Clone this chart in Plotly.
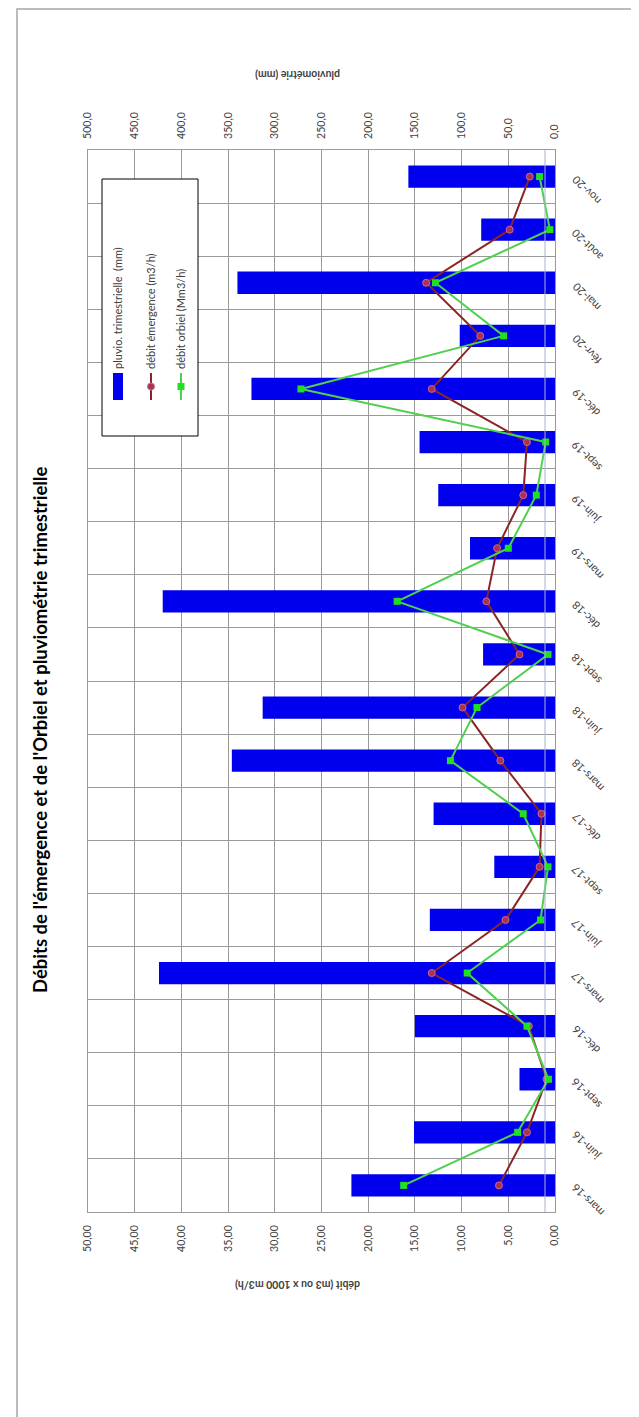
import plotly.graph_objects as go

# ---------------- data ----------------
categories = ['mars-16', 'juin-16', 'sept-16', 'déc-16', 'mars-17', 'juin-17', 'sept-17', 'déc-17',
              'mars-18', 'juin-18', 'sept-18', 'déc-18', 'mars-19', 'juin-19', 'sept-19', 'déc-19',
              'févr-20', 'mai-20', 'août-20', 'nov-20']
pluvio_mm = [218, 151, 38, 150, 424, 134, 65, 130, 346, 313, 77, 420, 91, 125, 145, 325, 102, 340, 79, 157]
debit_emergence = [6.0, 3.0, 0.9, 2.8, 13.2, 5.3, 1.65, 1.45, 5.85, 9.9, 3.8, 7.35, 6.2, 3.4, 3.0, 13.2,
                   8.0, 13.8, 4.85, 2.7]
debit_orbiel = [16.2, 4.0, 0.7, 3.0, 9.4, 1.55, 0.75, 3.4, 11.2, 8.35, 0.75, 16.9, 5.0, 2.0, 1.0, 27.2,
                5.5, 12.8, 0.55, 1.65]

debit_ticks = [0, 5, 10, 15, 20, 25, 30, 35, 40, 45, 50]
debit_ticktext = ['0,00', '5,00', '10,00', '15,00', '20,00', '25,00', '30,00', '35,00', '40,00', '45,00', '50,00']
pluvio_ticks = [0, 50, 100, 150, 200, 250, 300, 350, 400, 450, 500]
pluvio_ticktext = ['0,0', '50,0', '100,0', '150,0', '200,0', '250,0', '300,0', '350,0', '400,0', '450,0', '500,0']

title_text = "Débits de l'émergence et de l'Orbiel et pluviométrie trimestrielle"
debit_title = "débit (m3 ou x 1000 m3/h)"
pluvio_title = "pluviométrie (mm)"
legend_names = ["pluvio. trimestrielle  (mm)", "débit émergence (m3/h)", "débit orbiel (Mm3/h)"]

# ---------------- layout geometry ----------------
W, H = 639, 1417
PL, PR, PT, PB = 80, 547, 142, 1204
FONT = "Lato"

BLUE = '#0000ee'
RED_LINE = '#8b2525'
RED_MARK = '#a8364a'
RED_EDGE = '#d060a0'
GREEN_LINE = '#4fd04f'
GREEN_MARK = '#20e020'
GRID = '#9a9a9a'
TXT = '#404040'


def px(xp):
    return (xp - PL) / (PR - PL)


def py(yp):
    return (PB - yp) / (PB - PT)


fig = go.Figure()

fig.add_trace(go.Bar(
    name=legend_names[0], orientation='h', x=pluvio_mm, y=categories,
    xaxis='x', yaxis='y', width=0.42, marker=dict(color=BLUE, line=dict(width=0)),
))
fig.add_trace(go.Scatter(
    name=legend_names[1], x=debit_emergence, y=categories, xaxis='x2', yaxis='y',
    mode='lines+markers', line=dict(color=RED_LINE, width=2),
    marker=dict(symbol='circle', size=7, color=RED_MARK, line=dict(color=RED_EDGE, width=1)),
))
fig.add_trace(go.Scatter(
    name=legend_names[2], x=debit_orbiel, y=categories, xaxis='x2', yaxis='y',
    mode='lines+markers', line=dict(color=GREEN_LINE, width=2),
    marker=dict(symbol='square', size=7, color=GREEN_MARK, line=dict(width=0)),
))

fig.update_layout(
    width=W, height=H, autosize=False,
    margin=dict(l=PL, r=W - PR, t=PT, b=H - PB, pad=0),
    paper_bgcolor='white', plot_bgcolor='white',
    showlegend=False,
    bargap=0.58,
    font=dict(family=FONT, size=11, color=TXT),
    xaxis=dict(
        range=[500, 0], side='top', tickvals=pluvio_ticks, ticktext=pluvio_ticktext,
        tickangle=-90, showgrid=True, gridcolor=GRID, gridwidth=1, zeroline=False,
        showline=True, linecolor=GRID, mirror=False, ticks='', ticklabelstandoff=8,
        tickfont=dict(family=FONT, size=10.5, color=TXT),
    ),
    xaxis2=dict(
        range=[50, 0], side='bottom', overlaying='x', anchor='y', tickvals=debit_ticks,
        ticktext=debit_ticktext, tickangle=-90, showgrid=False, zeroline=False,
        showline=True, linecolor=GRID, ticks='', ticklabelstandoff=8,
        tickfont=dict(family=FONT, size=10.5, color=TXT),
    ),
    yaxis=dict(
        type='category', categoryorder='array', categoryarray=categories,
        range=[-0.5, len(categories) - 0.5], side='right', showticklabels=False,
        tickson='boundaries', showgrid=True, gridcolor=GRID, gridwidth=1,
        showline=True, linecolor=GRID, mirror=True, ticks='', zeroline=False,
    ),
)

shapes = []
# outer chart border
shapes.append(dict(type='rect', xref='paper', yref='paper', x0=px(9), x1=px(638), y0=py(1415), y1=py(1),
                   line=dict(color='#a6a6a6', width=1.5), fillcolor='rgba(0,0,0,0)', layer='below'))
# light vertical line near the value origin
shapes.append(dict(type='line', xref='paper', yref='paper', x0=px(537), x1=px(537), y0=0, y1=1,
                   line=dict(color='#a8b4cc', width=1), layer='above'))
# legend box
shapes.append(dict(type='rect', xref='paper', yref='paper', x0=px(94), x1=px(190), y0=py(428), y1=py(171),
                   line=dict(color='black', width=1), fillcolor='white', layer='above'))
# legend symbols
shapes.append(dict(type='rect', xref='paper', yref='paper', x0=px(105), x1=px(115), y0=py(392), y1=py(365),
                   line=dict(width=0), fillcolor=BLUE, layer='above'))
shapes.append(dict(type='line', xref='paper', yref='paper', x0=px(143), x1=px(143), y0=py(392), y1=py(365),
                   line=dict(color=RED_LINE, width=2), layer='above'))
shapes.append(dict(type='circle', xref='paper', yref='paper', x0=px(139.5), x1=px(146.5), y0=py(382), y1=py(375),
                   line=dict(color=RED_EDGE, width=1), fillcolor=RED_MARK, layer='above'))
shapes.append(dict(type='line', xref='paper', yref='paper', x0=px(173), x1=px(173), y0=py(392), y1=py(365),
                   line=dict(color=GREEN_LINE, width=2), layer='above'))
shapes.append(dict(type='rect', xref='paper', yref='paper', x0=px(169.5), x1=px(176.5), y0=py(382), y1=py(375),
                   line=dict(width=0), fillcolor=GREEN_MARK, layer='above'))
fig.update_layout(shapes=shapes)

ann = []
# chart title (reads bottom-to-top)
ann.append(dict(text='<b>' + title_text + '</b>', xref='paper', yref='paper', x=px(32), y=py(722),
                xanchor='center', yanchor='middle', textangle=-90, showarrow=False,
                font=dict(family=FONT, size=18.5, color='black')))
# axis titles (upside down)
ann.append(dict(text='<b>' + debit_title + '</b>', xref='paper', yref='paper', x=px(290), y=py(1277),
                xanchor='center', yanchor='middle', textangle=180, showarrow=False,
                font=dict(family=FONT, size=10.5, color=TXT)))
ann.append(dict(text='<b>' + pluvio_title + '</b>', xref='paper', yref='paper', x=px(290), y=py(67),
                xanchor='center', yanchor='middle', textangle=180, showarrow=False,
                font=dict(family=FONT, size=10.5, color=TXT)))
# legend texts
for xc, name in zip([110, 143, 173], legend_names):
    ann.append(dict(text=name, xref='paper', yref='paper', x=px(xc), y=py(363),
                    xanchor='center', yanchor='bottom', textangle=-90, showarrow=False,
                    font=dict(family=FONT, size=11, color=TXT)))
# category labels (diagonal)
for c in categories:
    ann.append(dict(text=c, xref='paper', yref='y', x=px(558), y=c, yshift=6,
                    xanchor='left', yanchor='top', textangle=-135, showarrow=False,
                    font=dict(family=FONT, size=11, color=TXT)))
fig.update_layout(annotations=ann)

fig.write_html("out.html")
